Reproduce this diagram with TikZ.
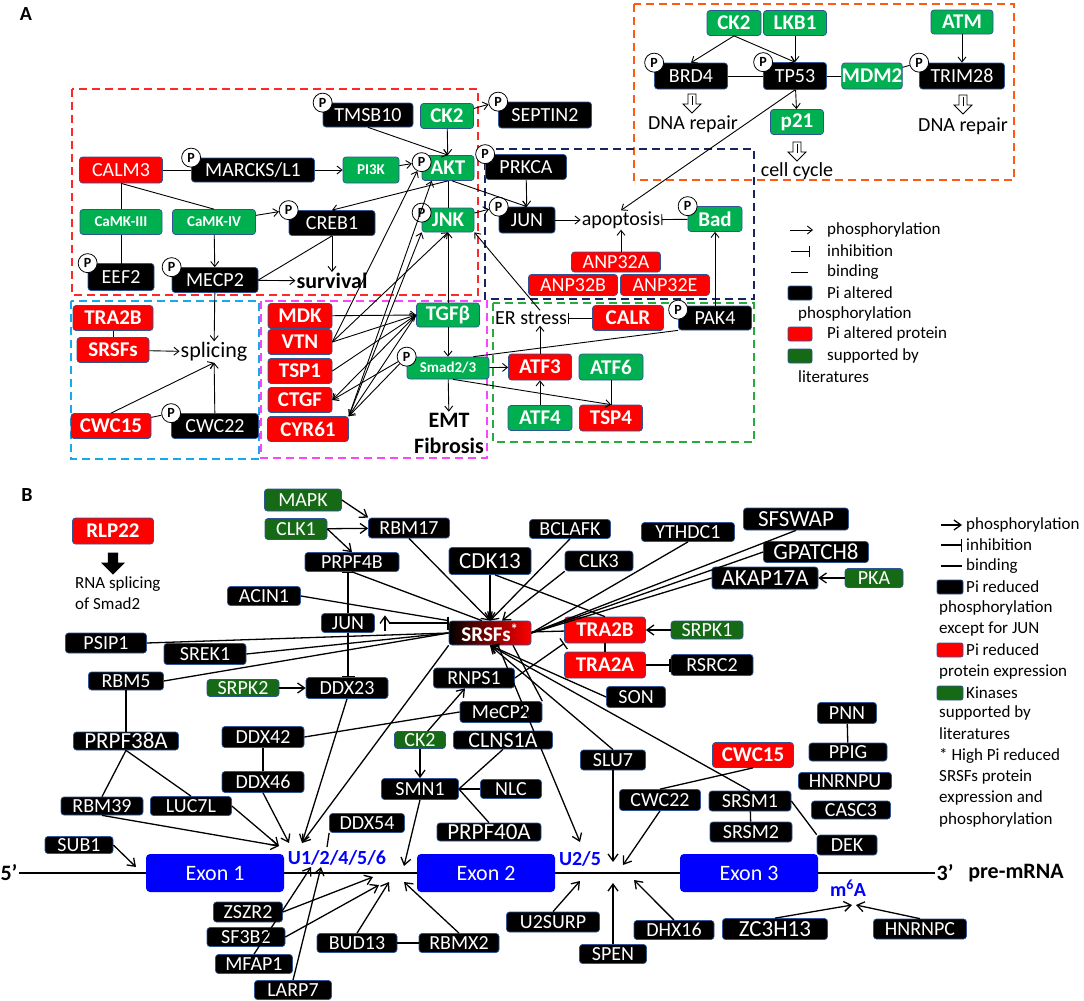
\documentclass[tikz,border=0pt]{standalone}
\usepackage{fontspec}
\setmainfont{Carlito}
\usetikzlibrary{arrows.meta,shapes.arrows}

\definecolor{pgreen}{RGB}{0,176,80}
\definecolor{kgreen}{RGB}{22,106,22}
\definecolor{pred}{RGB}{255,0,0}
\definecolor{pblue}{RGB}{0,0,255}
\definecolor{edge}{RGB}{47,85,151}
\definecolor{zred}{RGB}{255,40,40}
\definecolor{zorange}{RGB}{255,90,20}
\definecolor{znavy}{RGB}{25,35,95}
\definecolor{zcyan}{RGB}{20,170,235}
\definecolor{zmag}{RGB}{250,70,250}
\definecolor{zgreen}{RGB}{40,170,60}

\begin{document}
\begin{tikzpicture}[x=1pt,y=-1pt,
  pbox/.style={rounded corners=3pt,draw=edge,line width=0.7pt,inner sep=0pt,text=white,minimum height=25pt,font=\fontsize{20}{20}\selectfont},
  wd/.style={minimum width=#1pt},
  ht/.style={minimum height=#1pt},
  bk/.style={pbox,fill=black},
  rd/.style={pbox,fill=pred},
  rdb/.style={pbox,fill=pred,font=\bfseries\fontsize{21}{21}\selectfont},
  gn/.style={pbox,fill=pgreen,font=\bfseries\fontsize{21}{21}\selectfont},
  gns/.style={pbox,fill=pgreen,font=\bfseries\fontsize{15}{15}\selectfont},
  bb/.style={pbox,fill=black,minimum height=20pt,font=\fontsize{20}{20}\selectfont},
  bbig/.style={bb,font=\fontsize{23}{23}\selectfont},
  kg/.style={pbox,fill=kgreen,minimum height=19pt,font=\fontsize{20}{20}\selectfont},
  exon/.style={rounded corners=4pt,fill=pblue,text=white,inner sep=0pt,minimum width=138pt,minimum height=38pt,font=\fontsize{22}{22}\selectfont},
  pc/.style={circle,draw,fill=white,line width=0.8pt,inner sep=0pt,minimum size=19pt,font=\bfseries\fontsize{14}{14}\selectfont},
  txt/.style={inner sep=1pt,font=\fontsize{20}{20}\selectfont},
  txtb/.style={inner sep=1pt,font=\bfseries\fontsize{22}{22}\selectfont},
  site/.style={inner sep=1pt,text=pblue,font=\bfseries\fontsize{20}{20}\selectfont},
  leg/.style={anchor=west,inner sep=0pt,font=\fontsize{17}{17}\selectfont},
  legbox/.style={rounded corners=2pt,draw=edge,line width=0.7pt,minimum width=24pt,minimum height=14pt,inner sep=0pt},
  ar/.style={-{Straight Barb[length=5pt,width=8pt]},line width=0.9pt},
  inh/.style={-{Bar[width=11pt]},line width=0.9pt},
  ln/.style={line width=0.9pt},
  arb/.style={-{Straight Barb[length=7pt,width=10pt]},line width=1.3pt},
  inb/.style={-{Bar[width=13pt]},line width=1.3pt},
  lnb/.style={line width=1.3pt},
  zone/.style={dash pattern=on 8pt off 5pt,line width=1.5pt}]

  \useasboundingbox (0,0) rectangle (1084,1001);

  % ---------------- panel A ----------------
  \node[font=\bfseries\fontsize{20}{20}\selectfont] (labA) at (26,14) {A};

  \draw[zone,zred] (72,89) rectangle (478,295);
  \draw[zone,zorange] (634,4) rectangle (1014,180);
  \draw[zone,znavy] (485,149) rectangle (754,299);
  \draw[zone,zcyan] (71,301) rectangle (259,459);
  \draw[zone,zmag] (261,301) rectangle (487,458);
  \draw[zone,zgreen] (493,303) rectangle (754,442);

  \node[bk,wd=90,ht=24] (TMSB10) at (368,115) {TMSB10};
  \node[gn,wd=53] (CKa) at (447,116) {CK2};
  \node[bk,wd=93,ht=26] (SEPTIN2) at (545,115) {SEPTIN2};
  \node[rd,wd=83,ht=26] (CALM3) at (121,170) {CALM3};
  \node[bk,wd=123,ht=24] (MARCKS) at (253,170) {MARCKS/L1};
  \node[gns,wd=56,ht=26] (PI3K) at (371,170) {PI3K};
  \node[gn,wd=52] (AKT) at (448,168) {AKT};
  \node[bk,wd=81] (PRKCA) at (526,167) {PRKCA};
  \node[gns,wd=82] (CaMKIII) at (121,222) {CaMK-III};
  \node[gns,wd=83] (CaMKIV) at (214,222) {CaMK-IV};
  \node[bk,wd=86] (CREB1) at (332,223) {CREB1};
  \node[gn,wd=52,ht=24] (JNK) at (448,220) {JNK};
  \node[bk,wd=56,ht=26] (JUNa) at (527,220) {JUN};
  \node[txt] (apoptosis) at (621,220) {apoptosis};
  \node[gn,wd=54] (Bad) at (715,219) {Bad};
  \node[bk,wd=66,ht=27] (EEF2) at (121,277) {EEF2};
  \node[bk,wd=86] (MECP2) at (215,280) {MECP2};
  \node[txtb] (survival) at (332,281) {survival};
  \node[rd,wd=89,ht=20] (ANP32A) at (616,262) {ANP32A};
  \node[rd,wd=89,ht=21] (ANP32B) at (573,285) {ANP32B};
  \node[rd,wd=89,ht=21] (ANP32E) at (665,285) {ANP32E};

  \node[rdb,wd=80] (TRA2Ba) at (113,318) {TRA2B};
  \node[rdb,wd=72] (SRSFsa) at (113,350) {SRSFs};
  \node[txt,font=\fontsize{22}{22}\selectfont] (splicing) at (214,352) {splicing};
  \node[rdb,wd=80] (CWC15a) at (111,426) {CWC15};
  \node[bk,wd=87] (CWC22a) at (215,426) {CWC22};

  \node[rdb,wd=64] (MDK) at (300,316) {MDK};
  \node[rdb,wd=64] (VTN) at (300,342) {VTN};
  \node[rdb,wd=64] (TSP1) at (300,371) {TSP1};
  \node[rdb,wd=64] (CTGF) at (300,400) {CTGF};
  \node[rdb,wd=81] (CYR61) at (308,429) {CYR61};
  \node[gn,wd=63,ht=24] (TGFb) at (448,315) {TGFβ};
  \node[gns,wd=82,ht=22] (Smad) at (448,368) {Smad2/3};
  \node[txtb] (EMT) at (449,420) {EMT};
  \node[txtb] (Fibrosis) at (449,446) {Fibrosis};

  \node[txt] (ERstress) at (531,318) {ER stress};
  \node[rdb,wd=71] (CALR) at (628,318) {CALR};
  \node[bk,wd=73,ht=24] (PAK4) at (715,318) {PAK4};
  \node[rdb,wd=63,ht=26] (ATF3) at (540,367) {ATF3};
  \node[gn,wd=64,ht=26] (ATF6) at (611,367) {ATF6};
  \node[gn,wd=64] (ATF4) at (540,418) {ATF4};
  \node[rdb,wd=63,ht=26] (TSP4) at (611,418) {TSP4};

  \node[gn,wd=54] (CKt) at (734,23) {CK2};
  \node[gn,wd=63] (LKB1) at (795,23) {LKB1};
  \node[gn,wd=62,ht=24] (ATM) at (962,22) {ATM};
  \node[bk,wd=73,ht=26] (BRD4) at (691,76) {BRD4};
  \node[bk,wd=63,ht=27] (TP53) at (795,76) {TP53};
  \node[gn,wd=53,ht=26] (MDM2) at (872,76) {MDM2};
  \node[bk,wd=85,ht=26] (TRIM28) at (962,76) {TRIM28};
  \node[gn,wd=53] (p21) at (797,122) {p21};
  \node[txt] (repair1) at (693,124) {DNA repair};
  \node[txt] (cycle) at (797,171) {cell cycle};
  \node[txt] (repair2) at (963,126) {DNA repair};

  % hollow arrows
  \coordinate (h1) at (692,94);
  \coordinate (h2) at (797,142);
  \coordinate (h3) at (963,95);
  \foreach \h in {h1,h2,h3} {
    \draw[fill=white,line width=0.8pt,line join=miter] (\h) ++(-4,0) -- ++(8,0) -- ++(0,10) -- ++(5,0)
      -- ++(-9,9) -- ++(-9,-9) -- ++(5,0) -- cycle;
    \draw[line width=0.7pt] (\h) ++(0,2) -- ++(0,9);
  }

  \foreach \n in {TMSB10,SEPTIN2,MARCKS,PRKCA,CREB1,JUNa,Bad,EEF2,MECP2,CWC22a,BRD4,TP53,TRIM28,Smad}
    \node[pc] (p\n) at (\n.north west) {P};
  \node[pc] (pAKT) at ([yshift=-7pt]AKT.north west) {P};
  \node[pc] (pJNK) at ([yshift=-5pt]JNK.north west) {P};
  \node[pc] (pPAK4) at ([yshift=-4pt]PAK4.north west) {P};

  \draw[ln] (CALM3) -- (MARCKS);
  \draw[ar] (MARCKS) -- (PI3K);
  \draw[ar] (PI3K) -- (pAKT);
  \draw[ln] (CALM3.south) -- (CaMKIII.north);
  \draw[ln] (CALM3.south) -- (CaMKIV.north);
  \draw[ar] (CaMKIII) -- (pEEF2.south -| CaMKIII);
  \draw[ar] (CaMKIV) -- (MECP2);
  \draw[ar] (CaMKIV) -- (pCREB1);
  \draw[ar] (TMSB10.south) -- (AKT.north);
  \draw[ar] (CKa) -- (AKT);
  \draw[ar] (CKa) -- (pSEPTIN2);
  \draw[ar] (AKT.south) -- (CREB1.north);
  \draw[ln] (AKT) -- (JNK);
  \draw[ar] ([xshift=4pt]AKT.south) -- (JUNa.north);
  \draw[ar] (PRKCA) -- (JUNa);
  \draw[ar] (JNK) -- (pJUNa);
  \draw[ar] (JUNa) -- (apoptosis);
  \draw[inh] (Bad) -- (apoptosis);
  \draw[ar] (TP53.south) -- (apoptosis.north);
  \draw[ar] (ANP32A.north -| apoptosis) -- (apoptosis.south);
  \draw[ar] (PAK4) -- (Bad);
  \draw[inh] (CALR) -- (ERstress);
  \draw[ar] ([xshift=9pt]ERstress.north) -- (JNK.south east);
  \draw[ar] (ATF3.north) -- (ATF3.north |- ERstress.south);
  \draw[ar] (ATF4) -- (ATF3);
  \draw[ln] (ATF6) -- (TSP4);
  \draw[ar] (Smad) -- (ATF3);
  \draw[ar] ([xshift=5pt]Smad.south) -- (TSP4.north);
  \draw[ln] ([xshift=-16pt]Smad.north east) -- (PAK4.south west);
  \draw[ar] (TGFb) -- (Smad);
  \draw[ar] (Smad) -- (EMT);
  \draw[ar] (TGFb) -- (JNK);
  \draw[ar] (MDK) -- (TGFb.west);
  \draw[ar] (VTN.east) -- (TGFb.west);
  \draw[ar] (TSP1.east) -- (TGFb.west);
  \draw[ar] (TGFb.west) -- (CTGF.east);
  \draw[ar] (TGFb.west) -- (CYR61.north east);
  \draw[ar] (pSmad) -- (CTGF.east);
  \draw[ar] (pSmad) -- (CYR61.north east);
  \draw[ar] (VTN.east) -- (pAKT);
  \draw[ar] (VTN.east) -- (JNK.south);
  \draw[ar] (CYR61.north east) -- ([xshift=10pt]AKT.south west);
  \draw[ar] (CYR61.north east) -- (JNK.south west);
  \draw[ar] (CREB1) -- (survival);
  \draw[ar] (MECP2) -- (survival);
  \draw[ln] (CREB1.south) -- (MECP2.east);
  \draw[ar] (MECP2) -- (splicing);
  \draw[ln] (TRA2Ba) -- (SRSFsa);
  \draw[ar] (SRSFsa) -- (splicing);
  \draw[ar] (CWC15a.north) -- (splicing.south);
  \draw[ar] (CWC22a) -- (splicing);
  \draw[ln] (CWC15a) -- (pCWC22a);

  \draw[ar] (CKt.south) -- (BRD4.north);
  \draw[ar] (CKt.south) -- (TP53.north);
  \draw[ar] (LKB1) -- (TP53);
  \draw[ar] (ATM) -- (TRIM28);
  \draw[ln] (BRD4) -- (TP53);
  \draw[ln] (TP53) -- (MDM2);
  \draw[ln] (MDM2) -- (pTRIM28);
  \draw[ar] (TP53) -- (p21);

  % legend A
  \draw[ar] (790,230) -- (813,230);
  \node[leg] (la1) at (827,230) {phosphorylation};
  \draw[inh] (791,251) -- (810,251);
  \node[leg] (la2) at (827,251) {inhibition};
  \draw[ln] (791,272) -- (808,272);
  \node[leg] (la3) at (827,272) {binding};
  \node[legbox,fill=black] (lka) at (800,293) {};
  \node[leg] (la4) at (827,293) {Pi altered};
  \node[leg] (la5) at (798,314) {phosphorylation};
  \node[legbox,fill=pred] (lra) at (800,334) {};
  \node[leg] (la6) at (827,334) {Pi altered protein};
  \node[legbox,fill=kgreen] (lga) at (800,356) {};
  \node[leg] (la7) at (827,356) {supported by};
  \node[leg] (la8) at (798,377) {literatures};

  % ---------------- panel B ----------------
  \node[font=\bfseries\fontsize{20}{20}\selectfont] (labB) at (27,495) {B};

  \node[font=\bfseries\fontsize{22}{22}\selectfont,inner sep=1pt] (five) at (9,873) {5’};
  \node[font=\bfseries\fontsize{22}{22}\selectfont,inner sep=1pt] (three) at (945,873) {3’};
  \node[font=\bfseries\fontsize{22}{22}\selectfont,inner sep=1pt] (premrna) at (1016,873) {pre-mRNA};
  \draw[lnb] (five) -- (three);
  \node[exon] (Exon1) at (215,873) {Exon 1};
  \node[exon] (Exon2) at (486,873) {Exon 2};
  \node[exon] (Exon3) at (749,873) {Exon 3};
  \node[site] (U1) at (337,858) {U1/2/4/5/6};
  \node[site] (U2) at (580,859) {U2/5};
  \node[site] (m6A) at (848,888) {m\textsuperscript{6}A};

  \node[rdb,wd=81,ht=26] (RLP22) at (113,531) {RLP22};
  \node[single arrow,fill=black,shape border rotate=270,minimum height=22pt,minimum width=24pt,single arrow head extend=3pt,inner sep=2pt] (down) at (113,561) {};
  \node[anchor=west,align=left,inner sep=0pt,font=\fontsize{17}{21}\selectfont] (rnaspl) at (75,593) {RNA splicing\\of Smad2};

  \node[kg,wd=77,ht=22] (MAPK) at (303,500) {MAPK};
  \node[kg,wd=62,ht=21] (CLK1) at (296,529) {CLK1};
  \node[bb,wd=81] (RBM17) at (409,528) {RBM17};
  \node[bb,wd=81,ht=19] (BCLAFK) at (570,529) {BCLAFK};
  \node[bb,wd=93,ht=19] (YTHDC1) at (688,532) {YTHDC1};
  \node[bbig,wd=105,ht=22] (SFSWAP) at (796,519) {SFSWAP};
  \node[bb,wd=94,ht=19] (PRPF4B) at (352,562) {PRPF4B};
  \node[bbig,wd=82,ht=27] (CDK13) at (490,561) {CDK13};
  \node[bb,wd=68] (CLK3) at (599,561) {CLK3};
  \node[bbig,wd=105,ht=21] (GPATCH8) at (816,552) {GPATCH8};
  \node[bbig,wd=106,ht=22] (AKAP17A) at (765,578) {AKAP17A};
  \node[kg,wd=58] (PKA) at (874,578) {PKA};
  \node[bb,wd=73,ht=19] (ACIN1) at (264,596) {ACIN1};
  \node[bb,wd=53,ht=19] (bJUN) at (348,623) {JUN};
  \node[inner sep=0pt,minimum width=8pt,minimum height=15pt] (jup) at (385,623) {};
  \node[pbox,left color=black,right color=pred,wd=82,ht=24,font=\bfseries\fontsize{21}{21}\selectfont] (SRSFs) at (490,633) {SRSFs\textsuperscript{*}};
  \node[bb,wd=81] (PSIP1) at (106,643) {PSIP1};
  \node[bb,wd=82,ht=21] (SREK1) at (205,654) {SREK1};
  \node[rdb,wd=81,ht=26] (bTRA2B) at (605,630) {TRA2B};
  \node[kg,wd=72,ht=18] (SRPK1) at (707,630) {SRPK1};
  \node[rdb,wd=81,ht=26] (bTRA2A) at (605,665) {TRA2A};
  \node[bb,wd=82,ht=21] (RSRC2) at (712,665) {RSRC2};
  \node[bb,wd=75,ht=18] (RBM5) at (126,681) {RBM5};
  \node[kg,wd=72,ht=17] (SRPK2) at (243,688) {SRPK2};
  \node[bb,wd=82,ht=21] (DDX23) at (347,688) {DDX23};
  \node[bb,wd=81] (RNPS1) at (474,678) {RNPS1};
  \node[bb,wd=59,ht=21] (SON) at (636,697) {SON};
  \node[bb,wd=82,ht=21] (MeCP2) at (501,712) {MeCP2};
  \node[bb,wd=59,ht=21] (PNN) at (847,713) {PNN};
  \node[bb,wd=82,ht=21] (DDX42) at (263,737) {DDX42};
  \node[bb,wd=105,ht=18,font=\fontsize{23}{23}\selectfont] (PRPF38A) at (126,741) {PRPF38A};
  \node[kg,wd=51,ht=17] (bCK2) at (420,740) {CK2};
  \node[bb,wd=99,ht=18,font=\fontsize{22}{22}\selectfont] (CLNS1A) at (503,740) {CLNS1A};
  \node[bb,wd=78,ht=18] (PPIG) at (848,752) {PPIG};
  \node[rdb,wd=81] (bCWC15) at (753,755) {CWC15};
  \node[bb,wd=65] (SLU7) at (613,760) {SLU7};
  \node[bb,wd=93,ht=17] (HNRNPU) at (845,781) {HNRNPU};
  \node[bb,wd=82,ht=21] (DDX46) at (263,782) {DDX46};
  \node[bb,wd=77,ht=21] (SMN1) at (420,789) {SMN1};
  \node[bb,wd=61,ht=19] (NLC) at (511,789) {NLC};
  \node[bb,wd=81,ht=21] (bCWC22) at (660,800) {CWC22};
  \node[bb,wd=82] (SRSM1) at (750,801) {SRSM1};
  \node[bb,wd=79,ht=18] (CASC3) at (851,810) {CASC3};
  \node[bb,wd=82,ht=18] (RBM39) at (102,806) {RBM39};
  \node[bb,wd=81,ht=19] (LUC7L) at (191,806) {LUC7L};
  \node[bb,wd=75,ht=19] (DDX54) at (367,823) {DDX54};
  \node[bb,wd=104,ht=18,font=\fontsize{23}{23}\selectfont] (PRPF40A) at (489,832) {PRPF40A};
  \node[bb,wd=82] (SRSM2) at (751,832) {SRSM2};
  \node[bb,wd=60] (DEK) at (847,845) {DEK};
  \node[bb,wd=68,ht=17] (SUB1) at (79,845) {SUB1};
  \node[bb,wd=69] (ZSZR2) at (248,912) {ZSZR2};
  \node[bb,wd=93] (U2SURP) at (553,922) {U2SURP};
  \node[bbig,wd=105,ht=21] (ZC3H13) at (775,929) {ZC3H13};
  \node[bb,wd=93] (HNRNPC) at (920,929) {HNRNPC};
  \node[bb,wd=80,ht=19] (DHX16) at (674,930) {DHX16};
  \node[bb,wd=78,ht=19] (SF3B2) at (246,937) {SF3B2};
  \node[bb,wd=80,ht=19] (BUD13) at (357,943) {BUD13};
  \node[bb,wd=80,ht=19] (RBMX2) at (459,943) {RBMX2};
  \node[bb,wd=67,ht=19] (SPEN) at (613,954) {SPEN};
  \node[bb,wd=77,ht=19] (MFAP1) at (254,964) {MFAP1};
  \node[bb,wd=77,ht=19] (LARP7) at (293,990) {LARP7};

  \coordinate (u1l) at (279,846);
  \coordinate (u1m) at (289,843);
  \coordinate (u1r) at (302,843);
  \coordinate (u1e) at (327,847);
  \coordinate (u1bl) at (311,867);
  \coordinate (u1br) at (321,867);
  \coordinate (i1a) at (373,877);
  \coordinate (i1b) at (379,885);
  \coordinate (i1c) at (389,882);
  \coordinate (i1d) at (404,882);
  \coordinate (i1e) at (404,866);
  \coordinate (sub) at (136,867);
  \coordinate (u2t) at (580,842);
  \coordinate (u2b) at (580,881);
  \coordinate (i2a) at (613,862);
  \coordinate (i2b) at (623,865);
  \coordinate (i2c) at (613,883);
  \coordinate (i2d) at (634,880);
  \coordinate (m6a) at (852,905);
  \coordinate (m6b) at (856,905);

  \draw[arb] (MAPK.east) -- (RBM17.north west);
  \draw[arb] (CLK1) -- (RBM17);
  \draw[arb] (CLK1.east) -- (PRPF4B.north);
  \draw[arb] (RBM17.south) -- (SRSFs.north);
  \draw[arb] (CDK13) -- (SRSFs);
  \draw[arb] (BCLAFK.south) -- (SRSFs.north);
  \draw[arb] (CLK3.south west) -- ([xshift=12pt]SRSFs.north);
  \draw[lnb] (PRPF4B.south) -- ([xshift=-8pt]SRSFs.north);
  \draw[lnb] (ACIN1.east) -- (SRSFs.north west);
  \draw[lnb] (PSIP1.east) -- (SRSFs.west);
  \draw[lnb] (SREK1.east) -- (SRSFs.west);
  \draw[lnb] (RBM5.east) -- (SRSFs.west);
  \draw[lnb] (YTHDC1.south) -- (SRSFs.east);
  \draw[lnb] (SFSWAP.south) -- (SRSFs.east);
  \draw[lnb] (GPATCH8.west) -- (SRSFs.east);
  \draw[lnb] (AKAP17A.west) -- (SRSFs.east);
  \draw[arb] (PKA) -- (AKAP17A);
  \draw[lnb] (SRSFs) -- (bTRA2B);
  \draw[arb] (SRPK1) -- (bTRA2B);
  \draw[lnb] (bTRA2B) -- (bTRA2A);
  \draw[inb] (bTRA2A) -- (RSRC2);
  \draw[lnb] ([xshift=5pt]CDK13.south) -- (bTRA2B.north);
  \draw[arb] (SON.west) -- (SRSFs.south);
  \draw[arb] (SLU7.north) -- (SRSFs.south);
  \draw[arb] (SRSM1.north) -- (SRSFs.south);
  \draw[lnb] (MeCP2.north east) -- ([xshift=23pt]SRSFs.south);
  \draw[inb] (RNPS1.east) -- (bTRA2B.south west);
  \draw[arb] (bCK2) -- (RNPS1);
  \draw[arb] (bCK2) -- (SMN1);
  \draw[lnb] (DDX42.east) -- (MeCP2.west);
  \draw[arb] (jup.south) -- (jup.north);
  \draw[inb] (jup.east) -- (jup.east -| SRSFs.west);
  \draw[inb] (bJUN.north) -- (bJUN.north |- PRPF4B.south);
  \draw[inb] (bJUN.south) -- (bJUN.south |- DDX23.north);
  \draw[arb] (SRPK2) -- (DDX23);
  \draw[arb] (SRSFs.south west) -- (u1r);
  \draw[arb] ([xshift=8pt]SRSFs.south) -- (u2t);
  \draw[arb] (DDX23.south) -- (u1r);
  \draw[lnb] (DDX42) -- (DDX46);
  \draw[arb] (DDX46.south) -- (u1m);
  \draw[lnb] (RBM5) -- (PRPF38A);
  \draw[lnb] (PRPF38A.south) -- (RBM39.north);
  \draw[lnb] (PRPF38A.south) -- (LUC7L.north);
  \draw[arb] (RBM39.south) -- (u1l);
  \draw[arb] (LUC7L.east) -- (u1l);
  \draw[lnb] (DDX54.south west) -- (u1e);
  \draw[arb] (SUB1.east) -- (sub);
  \draw[arb] (MFAP1.north) -- (u1bl);
  \draw[arb] (LARP7.north) -- (u1br);
  \draw[arb] (ZSZR2.east) -- (i1a);
  \draw[arb] (SF3B2.east) -- (i1b);
  \draw[arb] (BUD13.north) -- (i1c);
  \draw[arb] (RBMX2.north) -- (i1d);
  \draw[lnb] (BUD13) -- (RBMX2);
  \draw[arb] (SMN1.south) -- (i1e);
  \draw[lnb] (CLNS1A.south) -- (SMN1.east);
  \draw[lnb] (NLC) -- (SMN1);
  \draw[lnb] (PRPF40A.north) -- (SMN1.east);
  \draw[arb] (U2SURP.north) -- (u2b);
  \draw[arb] (SLU7.south) -- (i2a);
  \draw[arb] (bCWC22.south) -- (i2b);
  \draw[arb] (SPEN.north) -- (i2c);
  \draw[arb] (DHX16.north) -- (i2d);
  \draw[lnb] (bCWC15.south) -- (bCWC22.north);
  \draw[lnb] (SRSM1) -- (SRSM2);
  \draw[lnb] (SRSM1.east) -- (DEK.north west);
  \draw[lnb] (PNN) -- (PPIG);
  \draw[arb] (ZC3H13.north) -- (m6a);
  \draw[arb] (HNRNPC.north) -- (m6b);

  % legend B
  \draw[arb] (941,525) -- (962,525);
  \node[leg] (lb1) at (966,525) {phosphorylation};
  \draw[inb] (941,545) -- (962,545);
  \node[leg] (lb2) at (966,545) {inhibition};
  \draw[lnb] (941,566) -- (962,566);
  \node[leg] (lb3) at (966,566) {binding};
  \node[legbox,fill=black,wd=26] (lkb) at (950,587) {};
  \node[leg] (lb4) at (966,587) {Pi reduced};
  \node[leg] (lb5) at (939,608) {phosphorylation};
  \node[leg] (lb6) at (939,629) {except for JUN};
  \node[legbox,fill=pred,wd=26] (lrb) at (950,650) {};
  \node[leg] (lb7) at (966,650) {Pi reduced};
  \node[leg] (lb8) at (939,672) {protein expression};
  \node[legbox,fill=kgreen,wd=26] (lgb) at (950,693) {};
  \node[leg] (lb9) at (966,693) {Kinases};
  \node[leg] (lb10) at (939,713) {supported by};
  \node[leg] (lb11) at (939,734) {literatures};
  \node[leg] (lb12) at (939,756) {* High Pi reduced};
  \node[leg] (lb13) at (939,777) {SRSFs protein};
  \node[leg] (lb14) at (939,798) {expression and};
  \node[leg] (lb15) at (939,820) {phosphorylation};
\end{tikzpicture}
\end{document}
